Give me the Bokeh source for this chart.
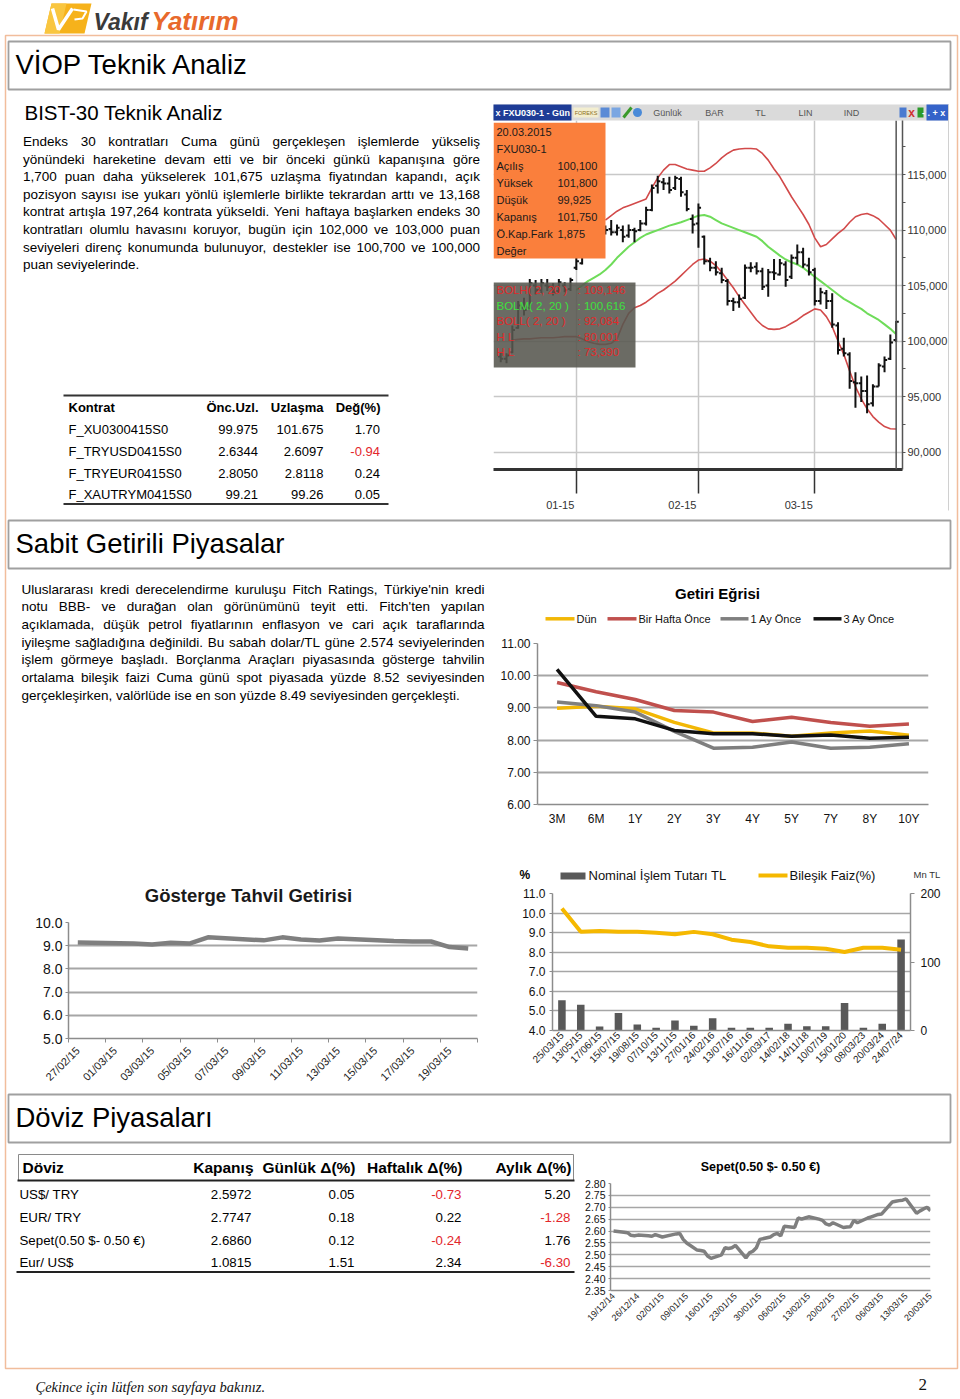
import math
import numpy as np
import pandas as pd
from bokeh.plotting import figure
from bokeh.models import (Range1d, FactorRange, LinearAxis, FixedTicker, NumeralTickFormatter,
                          Span, DatetimeTickFormatter)
from bokeh.core.properties import value
from bokeh.embed import file_html
from bokeh.resources import INLINE

SANS = "Liberation Sans"
SERIF = "Liberation Serif"
RED = "#e3262b"

# ---------------------------------------------------------------- data
para1 = [
    "Endeks 30 kontratları Cuma günü gerçekleşen işlemlerde yükseliş",
    "yönündeki hareketine devam etti ve bir önceki günkü kapanışına göre",
    "1,700 puan daha yükselerek 101,675 uzlaşma fiyatından kapandı, açık",
    "pozisyon sayısı ise yukarı yönlü işlemlerle birlikte tekrardan arttı ve 13,168",
    "kontrat artışla 197,264 kontrata yükseldi. Yeni haftaya başlarken endeks 30",
    "kontratları olumlu havasını koruyor, bugün için 102,000 ve 103,000 puan",
    "seviyeleri direnç konumunda bulunuyor, destekler ise 100,700 ve 100,000",
    "puan seviyelerinde.",
]
para2 = [
    "Uluslararası kredi derecelendirme kuruluşu Fitch Ratings, Türkiye'nin kredi",
    "notu BBB- ve durağan olan görünümünü teyit etti. Fitch'ten yapılan",
    "açıklamada, düşük petrol fiyatlarının enflasyon ve cari açık taraflarında",
    "iyileşme sağladığına değinildi. Bu sabah dolar/TL güne 2.574 seviyelerinden",
    "işlem görmeye başladı. Borçlanma Araçları piyasasında gösterge tahvilin",
    "ortalama bileşik faizi Cuma günü spot piyasada yüzde 8.52 seviyesinden",
    "gerçekleşirken, valörlüde ise en son yüzde 8.49 seviyesinden gerçekleşti.",
]

kontrat_names = ["F_XU0300415S0", "F_TRYUSD0415S0", "F_TRYEUR0415S0", "F_XAUTRYM0415S0"]
kontrat_onc = ["99.975", "2.6344", "2.8050", "99.21"]
kontrat_uzl = ["101.675", "2.6097", "2.8118", "99.26"]
kontrat_deg = [1.70, -0.94, 0.24, 0.05]

doviz_names = ["US$/ TRY", "EUR/ TRY", "Sepet(0.50 $- 0.50 €)", "Eur/ US$"]
doviz_kapanis = [2.5972, 2.7747, 2.6860, 1.0815]
doviz_gunluk = [0.05, 0.18, 0.12, 1.51]
doviz_haftalik = [-0.73, 0.22, -0.24, 2.34]
doviz_aylik = [5.20, -1.28, 1.76, -6.30]

# FXU030-1 daily bars (thousands), 15/12/2014 .. 20/03/2015
bar_dates = [d for d in pd.bdate_range("2014-12-15", "2015-03-20") if d != pd.Timestamp("2015-01-01")]
bar_open_k = [98.6, 98.4, 99.0, 101.2, 103.0, 103.0, 105.0, 104.6, 105.0, 104.9, 104.5, 105.0, 104.7,
              106.6, 107.0, 108.5, 109.5, 110.0, 109.9, 110.1, 109.8, 110.0, 109.5, 110.0, 110.0, 110.6,
              111.8, 114.0, 114.3, 114.2, 113.8, 114.6, 113.2, 111.0,
              110.6, 109.4, 107.2, 106.6, 106.1, 105.4, 103.6, 103.5, 103.9, 106.6, 106.7, 106.3, 105.0,
              106.2, 106.0, 106.9, 105.8, 107.5, 108.0, 106.8,
              106.4, 103.6, 104.3, 103.6, 101.4, 99.3, 98.8, 96.3, 96.2, 95.5, 94.4, 95.9, 97.7, 98.4, 100.1]
bar_high_k = [99.0, 98.9, 101.4, 103.6, 103.9, 105.6, 105.5, 105.6, 105.6, 105.2, 105.6, 105.3, 105.7,
              107.8, 108.5, 109.8, 110.4, 110.6, 110.4, 110.9, 110.5, 110.4, 110.5, 110.2, 110.9, 112.1,
              114.1, 114.9, 114.7, 114.8, 114.9, 114.8, 113.6, 111.4,
              112.4, 109.5, 107.5, 107.2, 106.6, 105.6, 103.9, 104.2, 106.9, 107.1, 107.1, 106.6, 106.5,
              107.4, 107.4, 107.2, 107.8, 108.7, 108.4, 107.5,
              106.6, 104.8, 104.6, 104.3, 101.7, 100.3, 99.0, 97.2, 96.8, 96.9, 96.1, 98.0, 98.6, 100.6, 101.8]
bar_low_k = [98.1, 98.0, 98.9, 101.1, 102.3, 102.9, 104.2, 104.3, 104.5, 104.1, 104.3, 104.4, 104.5,
             106.4, 106.9, 108.2, 109.2, 109.4, 109.6, 109.5, 109.5, 108.9, 109.3, 108.9, 109.9, 110.4,
             111.7, 113.3, 113.6, 113.3, 113.6, 113.0, 111.7, 109.7,
             108.4, 106.9, 106.3, 105.9, 105.2, 103.2, 102.7, 103.0, 103.8, 106.2, 106.0, 104.6, 104.0,
             105.5, 105.9, 104.9, 105.6, 106.9, 106.6, 105.9,
             103.2, 103.3, 102.9, 101.2, 98.8, 98.6, 95.7, 94.0, 94.5, 93.5, 94.1, 95.9, 97.2, 98.3, 99.925]
bar_close_k = [98.4, 98.7, 101.0, 103.2, 102.8, 105.2, 104.6, 105.2, 104.9, 104.4, 105.3, 104.6, 105.5,
               107.2, 108.1, 109.5, 110.1, 109.8, 110.0, 109.8, 110.2, 109.4, 110.0, 109.9, 110.6, 111.8,
               113.8, 114.4, 114.2, 113.6, 114.7, 113.4, 111.9, 110.5,
               112.0, 107.2, 106.6, 106.2, 105.5, 103.6, 103.5, 103.8, 106.6, 106.6, 106.3, 104.9, 106.2,
               106.1, 107.0, 105.5, 107.5, 108.0, 106.9, 106.2,
               103.6, 104.4, 103.6, 101.5, 99.2, 98.9, 96.4, 96.2, 95.5, 94.3, 95.9, 97.8, 98.3, 99.875, 101.75]
NA = float("nan")
bol_upper_k = [NA] * 18 + [
    110.9, 111.3, 111.7, 112.0, 112.2, 112.4, 112.6, 112.8, 113.8, 114.7, 115.4, 115.9, 115.9, 115.7,
    115.5, 115.4, 115.3, 115.3, 115.6, 116.0, 116.5, 116.9, 117.2, 117.3, 117.35, 117.35, 117.3, 116.9,
    116.3, 115.5, 114.8, 113.9, 113.0, 112.2, 111.4, 110.5, 109.3, 108.5, 108.7, 109.2, 109.7, 110.1,
    110.7, 111.2, 111.4, 111.5, 111.3, 111.0, 110.5, 110.0, 109.146]
bol_mid_k = [NA] * 13 + [
    104.6, 105.0, 105.4, 105.7, 106.0, 106.4, 106.9, 107.5, 108.0, 108.5, 108.9, 109.3, 109.6, 109.8,
    110.0, 110.2, 110.4, 110.55, 110.7, 110.9, 111.1, 111.3, 111.35, 111.2, 110.9, 110.6, 110.4, 110.2,
    110.0, 109.8, 109.6, 109.4, 109.0, 108.5, 108.1, 107.7, 107.35, 107.1, 106.9, 106.6, 106.2, 105.8,
    105.4, 105.0, 104.6, 104.2, 103.8, 103.5, 103.2, 102.9, 102.5, 102.2, 101.9, 101.5, 101.1, 100.616]
bol_lower_k = [NA] * 2 + [
    100.1, 100.15, 100.2, 100.2, 100.25, 100.3, 100.3, 100.3, 100.35, 100.4, 100.4,
    100.4, 100.2, 99.95, 99.8, 99.7, 99.7, 99.8, 100.2, 101.5, 102.5, 103.0, 103.2, 103.5, 103.9,
    104.3, 104.6, 105.0, 105.4, 105.9, 106.4, 106.9, 107.3, 107.4, 107.2, 106.8, 106.2, 105.5, 104.8,
    104.0, 103.3, 102.6, 101.9, 101.4, 101.1, 101.05, 101.1, 101.3, 101.6, 101.9, 102.3, 102.6, 102.9,
    102.8, 102.2, 101.3, 100.0, 98.8, 97.3, 95.9, 94.8, 93.9, 93.2, 92.7, 92.3, 92.1, 92.084]
fxu_price_ticks = [90000, 95000, 100000, 105000, 110000, 115000]

# Getiri egrisi
tenors = ["3M", "6M", "1Y", "2Y", "3Y", "4Y", "5Y", "7Y", "8Y", "10Y"]
getiri_dun = [8.99, 9.05, 8.97, 8.55, 8.22, 8.22, 8.12, 8.22, 8.28, 8.15]
getiri_bir_hafta = [9.79, 9.50, 9.26, 8.92, 8.87, 8.58, 8.71, 8.55, 8.43, 8.50]
getiri_bir_ay = [9.18, 9.07, 8.87, 8.27, 7.75, 7.78, 7.94, 7.75, 7.78, 7.89]
getiri_uc_ay = [10.20, 8.74, 8.66, 8.30, 8.20, 8.20, 8.12, 8.16, 8.06, 8.09]
getiri_labels = ["Dün", "Bir Hafta Önce", "1 Ay Önce", "3 Ay Önce"]

# Gosterge tahvil getirisi
gos_dates = ["27/02/2015", "02/03/2015", "03/03/2015", "04/03/2015", "05/03/2015", "06/03/2015",
             "09/03/2015", "10/03/2015", "11/03/2015", "12/03/2015", "13/03/2015", "16/03/2015",
             "17/03/2015", "18/03/2015", "19/03/2015", "20/03/2015"]
gos_vals = [9.14, 9.10, 9.05, 9.13, 9.09, 9.36, 9.23, 9.36, 9.27, 9.22, 9.31, 9.20, 9.18, 9.18, 8.94, 8.88]

# Nominal islem tutari / bilesik faiz
ihale_dates = ["25/03/15", "13/05/15", "17/06/15", "15/07/15", "19/08/15", "07/10/15", "13/11/15",
               "27/01/16", "24/02/16", "13/07/16", "16/11/16", "02/03/17", "14/02/18", "14/11/18",
               "10/07/19", "15/01/20", "08/03/23", "20/03/24", "24/07/24"]
nominal_tl = [44, 37.6, 6, 25.4, 8.8, 3.9, 14.6, 6.8, 18, 3.9, 3.9, 3.9, 9.8, 6.3, 6.3, 40, 3.9, 9.8, 132.7]
bilesik_faiz = [10.23, 9.04, 9.09, 9.04, 9.04, 8.99, 8.92, 9.04, 8.92, 8.64, 8.52, 8.30, 8.23, 8.23,
                8.18, 8.01, 8.23, 8.23, 8.13]
nominal_labels = ["Nominal İşlem Tutarı TL", "Bileşik Faiz(%)"]

# Sepet
sepet_dates = ["19/12/14", "22/12/14", "23/12/14", "24/12/14", "25/12/14", "26/12/14", "29/12/14",
               "30/12/14", "31/12/14", "02/01/15", "05/01/15", "06/01/15", "07/01/15", "08/01/15",
               "09/01/15", "12/01/15", "13/01/15", "14/01/15", "15/01/15", "16/01/15", "19/01/15",
               "20/01/15", "21/01/15", "22/01/15", "23/01/15", "26/01/15", "27/01/15", "28/01/15",
               "29/01/15", "30/01/15", "02/02/15", "03/02/15", "04/02/15", "05/02/15", "06/02/15",
               "09/02/15", "10/02/15", "11/02/15", "12/02/15", "13/02/15", "16/02/15", "17/02/15",
               "18/02/15", "19/02/15", "20/02/15", "23/02/15", "24/02/15", "25/02/15", "26/02/15",
               "27/02/15", "02/03/15", "03/03/15", "04/03/15", "05/03/15", "06/03/15", "09/03/15",
               "10/03/15", "11/03/15", "12/03/15", "13/03/15", "16/03/15", "17/03/15", "18/03/15",
               "19/03/15", "20/03/15"]
sepet_vals = [2.600, 2.595, 2.593, 2.582, 2.580, 2.583, 2.580, 2.578, 2.585,
              2.575, 2.585, 2.588, 2.590, 2.565, 2.550, 2.520, 2.518, 2.515, 2.495, 2.485, 2.500,
              2.530, 2.527, 2.530, 2.540, 2.487, 2.508, 2.515, 2.530, 2.565,
              2.575, 2.585, 2.590, 2.580, 2.620, 2.615, 2.655, 2.650, 2.655, 2.660, 2.650, 2.645,
              2.630, 2.625, 2.635, 2.615, 2.617, 2.618, 2.645, 2.635,
              2.655, 2.660, 2.665, 2.670, 2.672, 2.722, 2.725, 2.728, 2.730, 2.735, 2.675, 2.685,
              2.693, 2.700, 2.685]

# ---------------------------------------------------------------- helpers
AW = {' ': 278, '!': 278, '"': 355, '$': 556, '%': 889, "'": 191, '(': 333, ')': 333, ',': 278,
      '-': 333, '.': 278, '/': 278, ':': 278, '_': 556, '€': 556, 'Δ': 668,
      'A': 667, 'B': 667, 'C': 722, 'D': 722, 'E': 667, 'F': 611, 'G': 778, 'H': 722, 'I': 278,
      'J': 500, 'K': 667, 'L': 556, 'M': 833, 'N': 722, 'O': 778, 'P': 667, 'Q': 778, 'R': 722,
      'S': 667, 'T': 611, 'U': 722, 'V': 667, 'W': 944, 'X': 667, 'Y': 667, 'Z': 611,
      'a': 556, 'b': 556, 'c': 500, 'd': 556, 'e': 556, 'f': 278, 'g': 556, 'h': 556, 'i': 222,
      'j': 222, 'k': 500, 'l': 222, 'm': 833, 'n': 556, 'o': 556, 'p': 556, 'q': 556, 'r': 333,
      's': 500, 't': 278, 'u': 556, 'v': 500, 'w': 722, 'x': 500, 'y': 500, 'z': 500,
      'ç': 500, 'ğ': 556, 'ı': 278, 'ö': 556, 'ş': 500, 'ü': 556, 'Ç': 722, 'Ğ': 778, 'İ': 278,
      'Ö': 778, 'Ş': 667, 'Ü': 722}
MID = 0.35  # baseline -> middle offset (fraction of font size)


def tw(s, size):
    return sum(AW.get(ch, 556) for ch in s) * size / 1000.0


def txt(reg, x, y, s, size, color="#000000", align="left", style="normal", font=SANS):
    """y is the alphabetic baseline; drawn with a middle baseline."""
    key = (font, size, color, align, style)
    d = reg.setdefault(key, ([], [], []))
    d[0].append(x)
    d[1].append(y - MID * size)
    d[2].append(s)


def flush(reg, fig):
    for (font, size, color, align, style), (xs, ys, ts) in reg.items():
        fig.text(x=xs, y=ys, text=ts, text_font=value(font), text_font_size=value(f"{size}px"),
                 text_color=value(color), text_align=value(align), text_font_style=value(style),
                 text_baseline=value("middle"))


def justify(reg, line, x0, x1, y, size, last=False):
    if last:
        txt(reg, x0, y, line, size)
        return
    words = line.split()
    widths = [tw(w, size) for w in words]
    gap = (x1 - x0 - sum(widths)) / (len(words) - 1)
    x = x0
    for j, (w, wd) in enumerate(zip(words, widths)):
        if j == len(words) - 1:
            txt(reg, x1, y, w, size, align="right")
        else:
            txt(reg, x, y, w, size)
        x += wd + gap


def pos(left, top):
    return {"position": "absolute", "left": f"{left}px", "top": f"{top}px"}


def chart_base(fig, size=12):
    fig.background_fill_color = None
    fig.border_fill_color = None
    fig.outline_line_color = None
    fig.xgrid.visible = False
    fig.ygrid.grid_line_color = "#a6a6a6"
    fig.ygrid.grid_line_width = 1.5
    for ax in fig.axis:
        ax.major_label_text_font = SANS
        ax.major_label_text_font_size = f"{size}px"
        ax.major_label_text_color = "#111111"
        ax.axis_line_color = "#8c8c8c"
        ax.axis_line_width = 1.5
        ax.major_tick_line_color = "#8c8c8c"
        ax.major_tick_in = 0
        ax.major_tick_out = 4
        ax.minor_tick_line_color = None


def ms(d):
    return int(pd.Timestamp(d).value // 1_000_000)


# ---------------------------------------------------------------- page background
bg = figure(width=960, height=1399, x_range=Range1d(0, 960), y_range=Range1d(1399, 0),
            x_axis_type=None, y_axis_type=None, output_backend="svg", toolbar_location=None,
            min_border=0, styles=pos(0, 0))
bg.outline_line_color = None
bg.background_fill_color = "#ffffff"
bg.border_fill_color = "#ffffff"
R = {}

# logo
bg.patch([51, 91, 84, 44], [3, 3, 33, 33], fill_color="#f6b21b", line_color=None)
bg.patch([51, 66, 59, 44], [3, 3, 33, 33], fill_color="#f9c640", line_color=None)
bg.line([52, 58, 72], [8, 29, 8], line_color="#ffffff", line_width=3.5)
bg.line([73, 86, 82, 74], [9, 11, 18, 19], line_color="#ffffff", line_width=2)
txt(R, 93, 30, "Vakıf", 23, color="#3a3a3a", style="bold italic")
txt(R, 151, 30, "Yatırım", 26, color="#e8692c", style="bold italic")

# page frame
bg.quad(left=5, right=957, top=35, bottom=1368, fill_color=None, line_color="#f1bd9c", line_width=1.5)

# section header boxes
for top, title in [(41, "VİOP Teknik Analiz"), (520, "Sabit Getirili Piyasalar"),
                   (1094, "Döviz Piyasaları")]:
    bg.quad(left=8, right=950, top=top, bottom=top + 48, fill_color="#ffffff",
            line_color="#a0a0a0", line_width=1.8)
    txt(R, 15, top + 32.5, title, 27.5)

txt(R, 24, 119.5, "BIST-30 Teknik Analiz", 20.5)

for j, line in enumerate(para1):
    justify(R, line, 22.5, 479.5, 146 + j * 17.55, 13.5, last=(j == len(para1) - 1))
for j, line in enumerate(para2):
    justify(R, line, 21, 484, 593.3 + j * 17.73, 13.5, last=(j == len(para2) - 1))

# Kontrat table
bg.line([63, 388], [395, 395], line_color="#333333", line_width=2)
bg.line([63, 388], [503.5, 503.5], line_color="#333333", line_width=2)
txt(R, 68, 411.3, "Kontrat", 13, style="bold")
txt(R, 258, 411.3, "Önc.Uzl.", 13, align="right", style="bold")
txt(R, 323, 411.3, "Uzlaşma", 13, align="right", style="bold")
txt(R, 380, 411.3, "Değ(%)", 13, align="right", style="bold")
for name, onc, uzl, deg, y in zip(kontrat_names, kontrat_onc, kontrat_uzl, kontrat_deg,
                                  [433.4, 455.4, 477.2, 498.9]):
    txt(R, 68, y, name, 13)
    txt(R, 257.5, y, onc, 13, align="right")
    txt(R, 323, y, uzl, 13, align="right")
    txt(R, 379.5, y, f"{deg:.2f}", 13, color=RED if deg < 0 else "#000000", align="right")

# FXU chart window toolbar
bg.quad(left=493, right=948, top=104, bottom=120, fill_color="#dadada", line_color=None)
bg.quad(left=493, right=571, top=104, bottom=120, fill_color="#1e3c96", line_color=None)
txt(R, 495, 115.5, "x FXU030-1 - Gün", 9, color="#ffffff", style="bold")
bg.quad(left=573, right=598, top=107, bottom=117, fill_color="#f3eed0", line_color=None)
txt(R, 585.5, 114, "FOREKS", 5.5, color="#8a6d1a", align="center")
bg.quad(left=600, right=609, top=107, bottom=117, fill_color="#5b8bd6", line_color=None)
bg.quad(left=611, right=620, top=107, bottom=117, fill_color="#7aa6e2", line_color=None)
bg.line([623, 631], [117, 107], line_color="#3a9a2a", line_width=3)
bg.scatter([637], [112], size=9, fill_color="#4a8ad8", line_color=None)
for lx, lab in [(667, "Günlük"), (714, "BAR"), (760, "TL"), (805, "LIN"), (851, "IND")]:
    txt(R, lx, 115.5, lab, 9, color="#555555", align="center")
bg.quad(left=899, right=906, top=107, bottom=117, fill_color="#4a7ad0", line_color=None)
txt(R, 911, 116.5, "x", 12, color="#d03030", align="center", style="bold")
bg.quad(left=917, right=923, top=107, bottom=117, fill_color="#2a9a2a", line_color=None)
bg.quad(left=926, right=948, top=104, bottom=120, fill_color="#3563c9", line_color=None)
txt(R, 937, 115.5, "-  .  +  x", 9, color="#ffffff", align="center", style="bold")
bg.line([948, 948], [104, 510], line_color="#d0d0d0", line_width=1)

# chart titles, legends and side labels
txt(R, 717, 598.7, "Getiri Eğrisi", 15, align="center", style="bold")
g_cols = ["#f2b705", "#c0504d", "#7f7f7f", "#111111"]
for (x0, x1, xt), lab, col in zip([(545, 574, 576), (607, 636, 638), (720, 748, 750), (813, 841, 843)],
                                  getiri_labels, g_cols):
    bg.line([x0, x1], [618.3, 618.3], line_color=col, line_width=3.5)
    txt(R, xt, 618.3 + MID * 11, lab, 11, color="#111111")
txt(R, 248, 901.6, "Gösterge Tahvil Getirisi", 18.5, color="#1a1a1a", align="center", style="bold")
txt(R, 519, 879, "%", 12, style="bold")
bg.quad(left=560, right=585, top=872, bottom=879, fill_color="#595959", line_color=None)
txt(R, 588, 875 + MID * 13, nominal_labels[0], 13, color="#111111")
bg.line([758, 787], [875, 875], line_color="#f5b800", line_width=4)
txt(R, 789, 875 + MID * 13, nominal_labels[1], 13, color="#111111")
txt(R, 913, 877, "Mn TL", 9.5, color="#333333")
txt(R, 760, 1171, "Sepet(0.50 $- 0.50 €)", 12.5, align="center", style="bold")

# Doviz table
bg.line([18, 573], [1154, 1154], line_color="#8a8a8a", line_width=1)
bg.line([18, 18], [1154, 1180], line_color="#8a8a8a", line_width=1)
bg.line([573, 573], [1154, 1180], line_color="#8a8a8a", line_width=1)
bg.line([17, 574], [1180, 1180], line_color="#222222", line_width=2)
bg.line([16, 574], [1271.5, 1271.5], line_color="#222222", line_width=2)
hy = 1172.5
txt(R, 22, hy, "Döviz", 15.5, style="bold")
txt(R, 253, hy, "Kapanış", 15.5, align="right", style="bold")
txt(R, 355, hy, "Günlük Δ(%)", 15.5, align="right", style="bold")
txt(R, 462, hy, "Haftalık Δ(%)", 15.5, align="right", style="bold")
txt(R, 571, hy, "Aylık Δ(%)", 15.5, align="right", style="bold")
for name, kp, gu, ha, ay, y in zip(doviz_names, doviz_kapanis, doviz_gunluk, doviz_haftalik,
                                   doviz_aylik, [1198.7, 1221.7, 1244.7, 1266.7]):
    txt(R, 19, y, name, 13.3)
    txt(R, 251, y, f"{kp:.4f}", 13.3, align="right")
    for xr, v in [(354, gu), (461, ha), (570, ay)]:
        txt(R, xr, y, f"{v:.2f}", 13.3, color=RED if v < 0 else "#000000", align="right")

# footer
txt(R, 35, 1392, "Çekince için lütfen son sayfaya bakınız.", 14.5, color="#111111",
    style="italic", font=SERIF)
txt(R, 918, 1390, "2", 17, color="#111111", font=SERIF)
flush(R, bg)

# ---------------------------------------------------------------- FXU030 bar chart
n_bars = len(bar_dates)
kk = np.arange(n_bars)
month_starts = [k for k in range(1, n_bars) if bar_dates[k].month != bar_dates[k - 1].month]
label_pos = [round(k - 2.76, 2) for k in month_starts]
c = figure(width=457, height=391, x_range=Range1d(-1.24, 69.09), y_range=Range1d(88430, 119870),
           y_axis_location="right", output_backend="svg", toolbar_location=None,
           min_border_left=0, min_border_right=47, min_border_top=0, min_border_bottom=25,
           styles=pos(493, 120))
c.background_fill_color = None
c.border_fill_color = None
c.outline_line_color = None
c.xgrid.ticker = FixedTicker(ticks=month_starts)
c.ygrid.ticker = FixedTicker(ticks=fxu_price_ticks)
for gr in (c.xgrid, c.ygrid):
    gr.grid_line_color = "#c8c8c8"
    gr.grid_line_width = 1.5
xa = c.xaxis[0]
xa.ticker = FixedTicker(ticks=label_pos, minor_ticks=month_starts)
xa.major_label_overrides = {p: bar_dates[k].strftime("%m-%y") for p, k in zip(label_pos, month_starts)}
xa.axis_line_color = "#333333"
xa.axis_line_width = 3
xa.major_tick_line_color = None
xa.major_tick_out = 0
xa.major_tick_in = 0
xa.minor_tick_line_color = "#333333"
xa.minor_tick_line_width = 1.5
xa.minor_tick_out = 24
xa.minor_tick_in = 0
xa.major_label_standoff = 7
xa.major_label_text_font = SANS
xa.major_label_text_font_size = "11px"
xa.major_label_text_color = "#333333"
ya = c.yaxis[0]
ya.ticker = FixedTicker(ticks=fxu_price_ticks, minor_ticks=[t + 2500 for t in fxu_price_ticks])
ya.formatter = NumeralTickFormatter(format="0,0")
ya.axis_line_color = "#555555"
ya.axis_line_width = 1.5
ya.major_tick_line_color = "#555555"
ya.major_tick_out = 3
ya.major_tick_in = 0
ya.minor_tick_line_color = "#555555"
ya.minor_tick_out = 3
ya.minor_tick_in = 0
ya.major_label_standoff = 2
ya.major_label_text_font = SANS
ya.major_label_text_font_size = "11px"
ya.major_label_text_color = "#333333"


def k1000(a):
    return np.array(a, dtype=float) * 1000.0


c.line(kk, k1000(bol_upper_k), line_color="#d24a4a", line_width=1.6)
c.line(kk, k1000(bol_lower_k), line_color="#d24a4a", line_width=1.6)
c.line(kk, k1000(bol_mid_k), line_color="#6fdc5a", line_width=2)
opens, highs, lows, closes = k1000(bar_open_k), k1000(bar_high_k), k1000(bar_low_k), k1000(bar_close_k)
c.segment(x0=kk, y0=lows, x1=kk, y1=highs, line_color="#111111", line_width=2)
c.segment(x0=kk - 0.45, y0=opens, x1=kk, y1=opens, line_color="#111111", line_width=2)
c.segment(x0=kk, y0=closes, x1=kk + 0.45, y1=closes, line_color="#111111", line_width=2)
c.add_layout(Span(location=float(kk[-1]), dimension="height", line_color="#555555", line_width=1.5))

# info overlay boxes
ov = figure(width=143, height=247, x_range=Range1d(493, 636), y_range=Range1d(369, 122),
            x_axis_type=None, y_axis_type=None, output_backend="svg", toolbar_location=None,
            min_border=0, styles=pos(493, 122))
ov.background_fill_color = None
ov.border_fill_color = None
ov.outline_line_color = None
ov.quad(left=493, right=605, top=122, bottom=258, fill_color="#fa7f3c", line_color=None)
ov.quad(left=493, right=635, top=282, bottom=367, fill_color="#56564e", fill_alpha=0.88,
        line_color=None)
O = {}
info_rows = [("20.03.2015", ""), ("FXU030-1", ""), ("Açılış", "100,100"), ("Yüksek", "101,800"),
             ("Düşük", "99,925"), ("Kapanış", "101,750"), ("Ö.Kap.Fark", "1,875"), ("Değer", "")]
for j, (lab, val) in enumerate(info_rows):
    y = 135.5 + j * 17
    txt(O, 496, y, lab, 11, color="#1a1a1a")
    if val:
        txt(O, 557, y, val, 11, color="#1a1a1a")
bol_rows = [("BOLH( 2, 20 )", ": 109,146", "#e02a2a"), ("BOLM( 2, 20 )", ": 100,616", "#3ee03e"),
            ("BOLL( 2, 20 )", ": 92,084", "#e02a2a"), ("H L", ": 80,001", "#e02a2a"),
            ("H L", ": 73,390", "#e02a2a")]
for j, (lab, val, col) in enumerate(bol_rows):
    y = 294 + j * 15.5
    txt(O, 496, y, lab, 11.5, color=col)
    txt(O, 577, y, val, 11.5, color=col)
flush(O, ov)

# ---------------------------------------------------------------- Getiri Egrisi
g = figure(width=460, height=255, x_range=FactorRange(factors=tenors), y_range=Range1d(6, 11),
           output_backend="svg", toolbar_location=None, min_border_left=42, min_border_right=27,
           min_border_top=63, min_border_bottom=31, styles=pos(495, 580))
chart_base(g, 12)
g.ygrid.ticker = FixedTicker(ticks=[6, 7, 8, 9, 10, 11])
g.yaxis.ticker = FixedTicker(ticks=[6, 7, 8, 9, 10, 11])
g.yaxis.formatter = NumeralTickFormatter(format="0.00")
g.yaxis.major_label_standoff = 3
g.xaxis.major_tick_line_color = None
g.xaxis.major_tick_out = 0
g.xaxis.major_label_standoff = 7
g.ygrid.grid_line_width = 2
for ys, col in zip([getiri_dun, getiri_bir_hafta, getiri_bir_ay, getiri_uc_ay], g_cols):
    g.line(tenors, ys, line_color=col, line_width=3.5)

# ---------------------------------------------------------------- Gosterge tahvil
gos_x = pd.to_datetime(gos_dates, format="%d/%m/%Y")
gos_first, gos_last = gos_x[0], gos_x[-1]
gos_label_days = pd.date_range(gos_first, gos_last, freq="2D")
gos_bounds = pd.date_range(gos_first - pd.Timedelta(hours=12), gos_last + pd.Timedelta(hours=12),
                           freq="2D")
t = figure(width=470, height=220, x_axis_type="datetime",
           x_range=Range1d(gos_first - pd.Timedelta(hours=12), gos_last + pd.Timedelta(hours=12)),
           y_range=Range1d(5, 10), output_backend="svg", toolbar_location=None,
           min_border_left=53, min_border_right=8, min_border_top=52, min_border_bottom=46,
           styles=pos(15, 870))
chart_base(t, 14)
t.ygrid.ticker = FixedTicker(ticks=[5, 6, 7, 8, 9, 10])
t.yaxis.ticker = FixedTicker(ticks=[5, 6, 7, 8, 9, 10])
t.yaxis.formatter = NumeralTickFormatter(format="0.0")
t.yaxis.major_tick_out = 3
t.yaxis.major_label_standoff = 3
t.ygrid.grid_line_width = 1.8
tx = t.xaxis[0]
tx.ticker = FixedTicker(ticks=[ms(d) for d in gos_label_days], minor_ticks=[ms(d) for d in gos_bounds])
fmt = "%d/%m/%y"
tx.formatter = DatetimeTickFormatter(days=fmt, months=fmt, years=fmt, hours=fmt, hourmin=fmt)
tx.major_tick_out = 0
tx.major_tick_line_color = None
tx.minor_tick_line_color = "#8c8c8c"
tx.minor_tick_out = 4
tx.minor_tick_in = 0
tx.major_label_orientation = math.pi / 4
tx.major_label_text_font_size = "11px"
tx.major_label_text_color = "#222222"
tx.major_label_standoff = 6
t.line(gos_x, gos_vals, line_color="#7f7f7f", line_width=4.5)

# ---------------------------------------------------------------- Nominal / Bilesik faiz
n = figure(width=460, height=215, x_range=FactorRange(factors=ihale_dates), y_range=Range1d(4, 11),
           output_backend="svg", toolbar_location=None, min_border_left=57, min_border_right=45,
           min_border_top=33, min_border_bottom=45, styles=pos(495, 860))
n.extra_y_ranges = {"tl": Range1d(0, 200)}
chart_base(n, 12)
n.ygrid.ticker = FixedTicker(ticks=[4, 5, 6, 7, 8, 9, 10, 11])
n.yaxis.ticker = FixedTicker(ticks=[4, 5, 6, 7, 8, 9, 10, 11])
n.yaxis.formatter = NumeralTickFormatter(format="0.0")
n.yaxis.major_tick_out = 3
n.yaxis.major_label_standoff = 4
n.xaxis.major_tick_line_color = None
n.xaxis.major_tick_out = 0
n.xaxis.major_label_orientation = math.pi / 4
n.xaxis.major_label_text_font_size = "10px"
n.xaxis.major_label_text_color = "#222222"
n.xaxis.major_label_standoff = 3
n.vbar(x=ihale_dates, top=nominal_tl, width=0.4, y_range_name="tl",
       fill_color="#595959", line_color=None)
n.line(ihale_dates, bilesik_faiz, line_color="#f5b800", line_width=4)
n_right = LinearAxis(y_range_name="tl", ticker=FixedTicker(ticks=[0, 100, 200]))
n_right.major_label_text_font = SANS
n_right.major_label_text_font_size = "12px"
n_right.major_label_text_color = "#111111"
n_right.axis_line_color = "#8c8c8c"
n_right.axis_line_width = 1.5
n_right.major_tick_line_color = "#8c8c8c"
n_right.major_tick_out = 4
n_right.major_tick_in = 0
n_right.minor_tick_line_color = None
n_right.major_label_standoff = 6
n.add_layout(n_right, "right")

# ---------------------------------------------------------------- Sepet
sep_x = pd.to_datetime(sepet_dates, format="%d/%m/%y")
sep_weeks = pd.date_range(sep_x[0], sep_x[-1], freq="7D")
s = figure(width=380, height=190, x_axis_type="datetime",
           x_range=Range1d(sep_x[0] - pd.Timedelta(hours=21), sep_x[-1]),
           y_range=Range1d(2.35, 2.80), output_backend="svg", toolbar_location=None,
           min_border_left=35, min_border_right=25, min_border_top=33, min_border_bottom=50,
           styles=pos(575, 1150))
chart_base(s, 10.5)
s_ticks = [2.35, 2.40, 2.45, 2.50, 2.55, 2.60, 2.65, 2.70, 2.75, 2.80]
s.ygrid.ticker = FixedTicker(ticks=s_ticks)
s.yaxis.ticker = FixedTicker(ticks=s_ticks)
s.yaxis.formatter = NumeralTickFormatter(format="0.00")
s.yaxis.major_tick_out = 2
s.yaxis.major_label_standoff = 3
s.ygrid.grid_line_width = 1.3
sx = s.xaxis[0]
sx.ticker = FixedTicker(ticks=[ms(d) for d in sep_weeks])
sx.formatter = DatetimeTickFormatter(days=fmt, months=fmt, years=fmt, hours=fmt, hourmin=fmt)
sx.major_tick_out = 0
sx.major_tick_line_color = None
sx.major_label_orientation = math.pi / 4
sx.major_label_text_font_size = "9px"
sx.major_label_text_color = "#222222"
sx.major_label_standoff = 4
s.line(sep_x, sepet_vals, line_color="#7f7f7f", line_width=3.5)

html = file_html([bg, c, ov, g, t, n, s], INLINE, title="VİOP Teknik Analiz")
open("out.html", "w", encoding="utf-8").write(html)
